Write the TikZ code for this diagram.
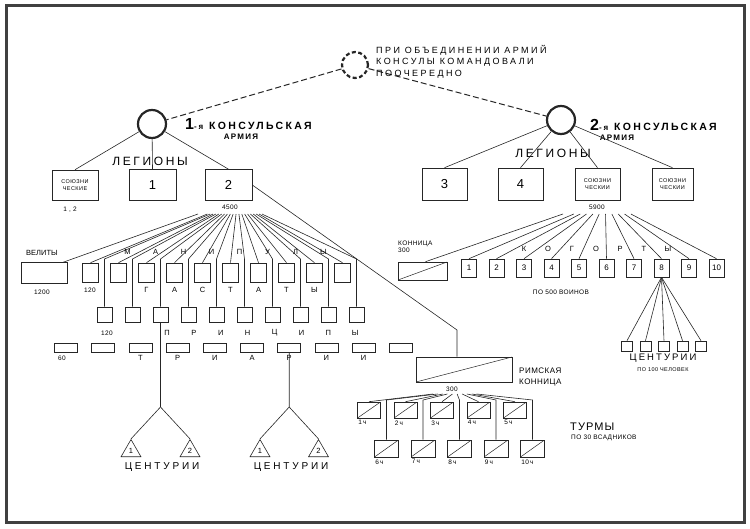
\documentclass[tikz,border=0pt]{standalone}
\usepackage{fontspec}
\setmainfont{Liberation Sans}
\newfontfamily\hand{Liberation Sans}
\usetikzlibrary{positioning}
\usetikzlibrary{shapes.geometric}
\newcommand\handfont[3]{\hand\fontsize{#1}{#2}\selectfont\addfontfeature{LetterSpace=#3}}
\tikzset{
  frameline/.style={draw=black!75, line width=3pt},
  ln/.style={draw=black!85, line width=0.6pt},
  dashln/.style={draw=black!85, line width=1pt, dash pattern=on 6pt off 3pt},
  ring/.style={circle, draw=black!85, line width=2.2pt, minimum size=28pt, inner sep=0pt},
  legbox/.style={draw=black!85, line width=0.6pt, minimum width=47pt, minimum height=31pt, inner sep=0pt, font={\handfont{13}{13}{0}}},
  socbox/.style={legbox, align=center, font={\handfont{5.5}{7}{8}}},
  unit/.style={draw=black!85, line width=0.6pt, inner sep=0pt},
  hbox/.style={unit, minimum width=16pt, minimum height=19pt},
  pbox/.style={unit, minimum width=15pt, minimum height=15pt},
  tbox/.style={unit, minimum width=23pt, minimum height=9pt},
  kbox/.style={unit, minimum width=15pt, minimum height=18pt, font={\handfont{8}{8}{0}}},
  cbox/.style={unit, minimum width=11pt, minimum height=10pt},
  slashbox/.style={unit, path picture={\draw[black!85, line width=0.5pt] (path picture bounding box.south west) -- (path picture bounding box.north east);}},
  turma/.style={slashbox, minimum width=23pt, minimum height=16pt},
  tri/.style={regular polygon, regular polygon sides=3, draw=black!85, line width=0.6pt, minimum size=23pt, inner sep=0pt, font={\handfont{7.5}{7.5}{0}}},
  lbl/.style={inner sep=0pt, font={\handfont{7.5}{8}{0}}},
  numlbl/.style={inner sep=0pt, font={\handfont{6.5}{7}{6}}},
  note/.style={inner sep=0pt, align=left, font={\handfont{9}{11.5}{27}}},
  title/.style={inner sep=0pt, font={\hand\bfseries\fontsize{10.5}{11}\selectfont\addfontfeature{LetterSpace=22}}},
  subtitle/.style={inner sep=0pt, font={\hand\bfseries\fontsize{8}{8}\selectfont\addfontfeature{LetterSpace=16}}},
  legio/.style={inner sep=0pt, font={\handfont{12}{12}{22}}},
  capt/.style={inner sep=0pt, font={\handfont{10}{10}{28}}},
}
\begin{document}
\begin{tikzpicture}[x=1pt, y=-1pt]
  \useasboundingbox (0,0) rectangle (750,529);
  \draw[frameline] (6,6) rectangle (744,522);
  % consular armies
  \node[ring, dash pattern=on 4pt off 2.5pt, minimum size=26pt] (top) at (355,65) {};
  \node[ring] (army1) at (152,124) {};
  \node[ring] (army2) at (561,120) {};
  \draw[dashln] (top) -- (army1);
  \draw[dashln] (top) -- (army2);
  \node[note, anchor=north west] (remark) at (376,45) {ПРИ ОБЪЕДИНЕНИИ АРМИЙ\\КОНСУЛЫ КОМАНДОВАЛИ\\ПООЧЕРЕДНО};
  \node[title, anchor=west] (title1) at (185,124) {{\fontsize{16}{16}\selectfont 1}{\fontsize{8}{8}\selectfont -я}\hspace{6pt}КОНСУЛЬСКАЯ};
  \node[subtitle] (title1b) at (241,137) {АРМИЯ};
  \node[title, anchor=west] (title2) at (590,125) {{\fontsize{16}{16}\selectfont 2}{\fontsize{8}{8}\selectfont -я}\hspace{6pt}КОНСУЛЬСКАЯ};
  \node[subtitle] (title2b) at (617,138) {АРМИЯ};
  % legions
  \node[socbox, minimum width=46pt, minimum height=30pt] (soc1) at (75,185) {СОЮЗНИ\\ЧЕСКИЕ};
  \node[legbox] (leg1) at (152.5,185) {1};
  \node[legbox] (leg2) at (228.5,185) {2};
  \node[legbox, minimum width=45pt, minimum height=32pt] (leg3) at (444.5,184) {3};
  \node[legbox, minimum width=45pt, minimum height=32pt] (leg4) at (520.5,184) {4};
  \node[socbox, minimum width=45pt, minimum height=32pt] (soc2) at (597.5,184) {СОЮЗНИ\\ЧЕСКИИ};
  \node[socbox, minimum width=41pt, minimum height=32pt] (soc3) at (672.5,184) {СОЮЗНИ\\ЧЕСКИИ};
  \node[legio] (legL) at (150,161) {ЛЕГИОНЫ};
  \node[legio] (legR) at (553,153) {ЛЕГИОНЫ};
  \foreach \b in {soc1,leg1,leg2} \draw[ln] (army1) -- (\b.north);
  \foreach \b in {leg3,leg4,soc2,soc3} \draw[ln] (army2) -- (\b.north);
  \node[numlbl] (n12) at (70,210) {1 , 2};
  \node[numlbl] (n4500) at (230,207) {4500};
  \node[numlbl] (n5900) at (597,207) {5900};
  % legion 2: velites and manipuli
  \node[unit, minimum width=46pt, minimum height=21pt] (velites) at (44,273) {};
  \node[lbl] (velitesL) at (42,253) {ВЕЛИТЫ};
  \node[numlbl] (n1200) at (42,292) {1200};
  \draw[ln] (198,214) -- ([xshift=-4pt]velites.north east);
  \foreach \i in {0,...,9}{
    \pgfmathsetmacro\hpos{90.5+28*\i}
    \pgfmathsetmacro\ppos{104.5+28*\i}
    \node[hbox] (h\i) at (\hpos,272.5) {};
    \node[pbox] (p\i) at (\ppos,314.5) {};
    \node[tbox] (r\i) at ({66+37.2*\i},347.5) {};
    \draw[ln] ({198+(\hpos-45)/312*64},214) -- (h\i.north);
    \draw[ln] ({198+(\ppos-45)/312*64},214) -- (\ppos,259) -- (p\i.north);
  }
  \foreach \l [count=\i] in {М,А,Н,И,П,У,Л,Ы} \node[lbl] (ml\i) at ({99.5+28*\i},252) {\l};
  \node[numlbl] (hl0) at (90,290) {120};
  \foreach \l [count=\i from 2] in {Г,А,С,Т,А,Т,Ы} \node[lbl] (hl\i) at ({90.5+28*\i},290) {\l};
  \node[numlbl] (pl0) at (107,333) {120};
  \foreach \l [count=\i from 2] in {П,Р,И,Н,Ц,И,П,Ы} \node[lbl] (pl\i) at ({167+26.9*(\i-2)},333) {\l};
  \node[numlbl] (rl0) at (62,358) {60};
  \foreach \l [count=\i from 2] in {Т,Р,И,А,Р,И,И} \node[lbl] (rl\i) at ({66+37.2*\i},358) {\l};
  % centuries
  \coordinate (fork1) at (160.5,407);
  \coordinate (fork2) at (289.2,407);
  \draw[ln] (p2.south) -- (fork1);
  \draw[ln] (r6.south) -- (fork2);
  \node[tri] (cA1) at (131,451) {1};
  \node[tri] (cA2) at (190,451) {2};
  \node[tri] (cB1) at (260,451) {1};
  \node[tri] (cB2) at (318.5,451) {2};
  \draw[ln] (fork1) -- (cA1.corner 1);
  \draw[ln] (fork1) -- (cA2.corner 1);
  \draw[ln] (fork2) -- (cB1.corner 1);
  \draw[ln] (fork2) -- (cB2.corner 1);
  \node[capt] (centA) at (162,467) {ЦЕНТУРИИ};
  \node[capt] (centB) at (291,467) {ЦЕНТУРИИ};
  % roman cavalry
  \node[slashbox, minimum width=96pt, minimum height=25pt] (rk) at (464,369.5) {};
  \coordinate (bend) at (457,330);
  \draw[ln] (leg2.east) -- (bend) -- (bend |- rk.north);
  \node[lbl, anchor=west, align=left, font={\handfont{8}{11}{6}}] (rkL) at (519,377) {РИМСКАЯ\\КОННИЦА};
  \node[numlbl] (n300) at (452,389) {300};
  \foreach \i in {1,...,5}{
    \pgfmathsetmacro\tpos{369+36.5*(\i-1)}
    \node[turma] (t\i) at (\tpos,410) {};
    \node[numlbl, anchor=north west] (tl\i) at ([xshift=1pt,yshift=-2pt]t\i.south west) {\i\,ч};
    \draw[ln] ({433+(\tpos-369)/165*44},394) -- (t\i.north);
  }
  \foreach \i in {6,...,10}{
    \pgfmathsetmacro\tpos{386.5+36.5*(\i-6)}
    \node[turma, minimum width=24pt, minimum height=17pt] (t\i) at (\tpos,448.5) {};
    \node[numlbl, anchor=north west] (tl\i) at ([xshift=1pt,yshift=-2pt]t\i.south west) {\i\,ч};
    \draw[ln] ({433+(\tpos-369)/165*44},394) -- (\tpos,400) -- (t\i.north);
  }
  \node[inner sep=0pt, anchor=west, font={\handfont{11}{11}{10}}] (turmL) at (570,427) {ТУРМЫ};
  \node[numlbl, anchor=west] (turmL2) at (571,438) {ПО 30 ВСАДНИКОВ};
  % allied legion: cohorts
  \node[slashbox, minimum width=49pt, minimum height=18pt] (cavR) at (422.5,271) {};
  \node[numlbl, anchor=west, align=left] (cavRL) at (398,247) {КОННИЦА\\300};
  \draw[ln] (563,214) -- ([xshift=3pt]cavR.north);
  \foreach \i in {1,...,10}{
    \pgfmathsetmacro\kpos{469+27.5*(\i-1)}
    \node[kbox] (k\i) at (\kpos,268) {\i};
    \draw[ln] ({563+(\kpos-422)/295*68},214) -- (k\i.north);
  }
  \foreach \l [count=\i from 0] in {К,О,Г,О,Р,Т,Ы} \node[lbl] (kl\i) at ({524+24*\i},249) {\l};
  \node[numlbl] (kl500) at (561,292) {ПО 500 ВОИНОВ};
  \foreach \j in {1,...,5}{
    \node[cbox] (z\j) at ({627+18.5*(\j-1)},346) {};
    \draw[ln] (k8.south) -- (z\j.north);
  }
  \node[capt, font={\handfont{9.5}{10}{22}}] (centC) at (663,358) {ЦЕНТУРИИ};
  \node[numlbl, font={\handfont{5.5}{6}{8}}] (centC2) at (663,370) {ПО 100 ЧЕЛОВЕК};
\end{tikzpicture}
\end{document}
